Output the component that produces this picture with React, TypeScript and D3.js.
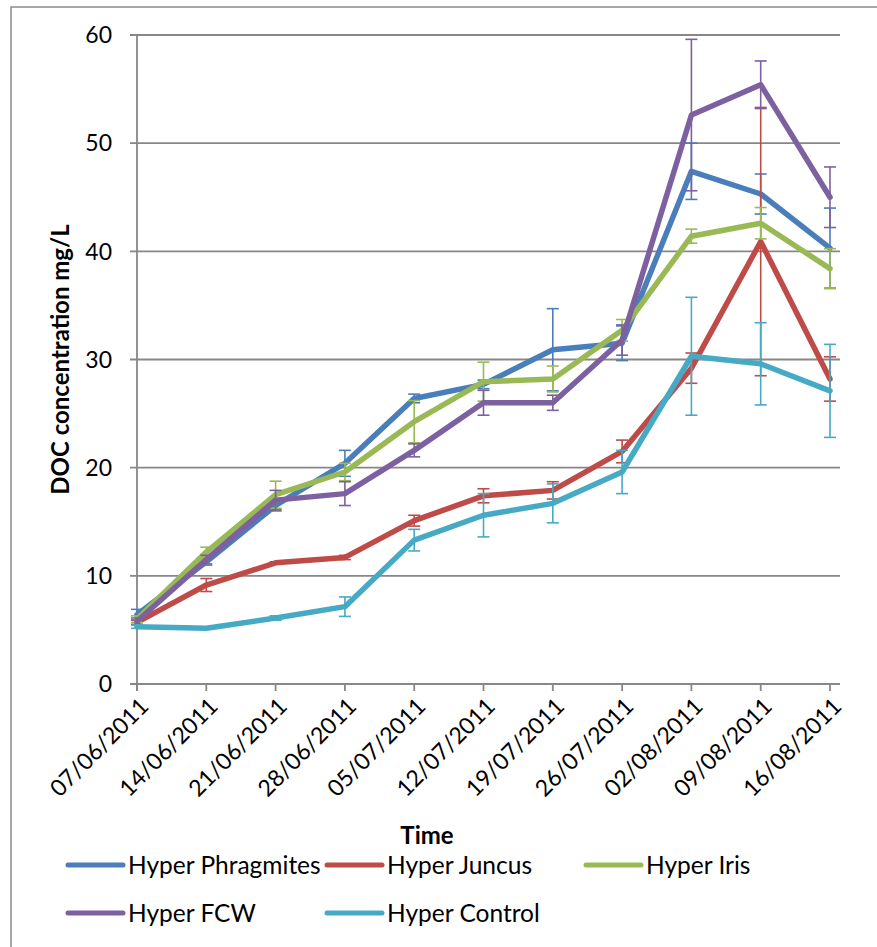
import React from "react";
import * as d3 from "d3";

const dates = [
  "07/06/2011", "14/06/2011", "21/06/2011", "28/06/2011", "05/07/2011", "12/07/2011",
  "19/07/2011", "26/07/2011", "02/08/2011", "09/08/2011", "16/08/2011",
];

const seriesNames = ["Hyper Phragmites", "Hyper Juncus", "Hyper Iris", "Hyper FCW", "Hyper Control"];
const seriesColors = ["#4A7EBB", "#BE4B48", "#98B954", "#7D60A0", "#46AAC5"];

const phragmites = [6.4, 11.3, 16.5, 20.4, 26.4, 27.7, 30.9, 31.5, 47.4, 45.3, 40.3];
const phragmitesErr = [0.5, 0.3, 0.5, 1.2, 0.4, 0.4, 3.8, 1.6, 2.6, 1.85, 3.7];

const juncus = [5.7, 9.15, 11.2, 11.7, 15.1, 17.4, 17.9, 21.5, 29.2, 40.9, 28.2];
const juncusErr = [0.2, 0.6, 0.1, 0.2, 0.5, 0.65, 0.8, 1.05, 1.4, 12.4, 2.05];

const iris = [6.0, 12.2, 17.5, 19.6, 24.25, 27.95, 28.2, 32.7, 41.4, 42.6, 38.4];
const irisErr = [0.3, 0.45, 1.25, 0.8, 1.95, 1.8, 1.2, 1.0, 0.65, 1.45, 1.85];

const fcw = [5.8, 11.5, 17.0, 17.6, 21.6, 26.0, 26.0, 31.8, 52.6, 55.4, 45.0];
const fcwErr = [0.3, 0.4, 0.9, 1.1, 0.6, 1.15, 0.7, 1.4, 7.0, 2.2, 2.8];

const control = [5.3, 5.15, 6.1, 7.15, 13.3, 15.6, 16.7, 19.6, 30.3, 29.6, 27.1];
const controlErr = [0.15, 0.05, 0.2, 0.9, 1.0, 2.0, 1.8, 2.0, 5.45, 3.8, 4.3];

const yTicks = [0, 10, 20, 30, 40, 50, 60];

const seriesValues = [phragmites, juncus, iris, fcw, control];
const seriesErrors = [phragmitesErr, juncusErr, irisErr, fcwErr, controlErr];

const FONT = "Lato, 'Open Sans', sans-serif";
const GRID = "#878787";

export default function App() {
  const W = 877;
  const H = 947;
  const left = 137;
  const right = 840;
  const top = 35;
  const bottom = 684;
  const lastX = 830;

  const x = d3.scalePoint<string>().domain(dates).range([left, lastX]);
  const y = d3.scaleLinear().domain([0, 60]).range([bottom, top]);

  const line = d3
    .line<number>()
    .x((_, i) => x(dates[i]) as number)
    .y((d) => y(d));

  const legendItems = [
    { name: seriesNames[0], color: seriesColors[0], lx: 68, ly: 865 },
    { name: seriesNames[1], color: seriesColors[1], lx: 327, ly: 865 },
    { name: seriesNames[2], color: seriesColors[2], lx: 586, ly: 865 },
    { name: seriesNames[3], color: seriesColors[3], lx: 68, ly: 913 },
    { name: seriesNames[4], color: seriesColors[4], lx: 327, ly: 913 },
  ];

  return (
    <svg
      width={W}
      height={H}
      style={{ position: "absolute", left: 0, top: 0, background: "#fff" }}
      fontFamily={FONT}
    >
      <rect x={0} y={0} width={W} height={H} fill="#fff" />
      {/* chart frame */}
      <rect x={11} y={7} width={W + 20} height={H + 20} fill="none" stroke="#8c8c8c" strokeWidth={1.5} />

      {/* horizontal gridlines and y ticks */}
      {yTicks.map((t) => (
        <g key={t}>
          <line x1={130} x2={right} y1={y(t)} y2={y(t)} stroke={GRID} strokeWidth={1.8} />
          <text x={112} y={y(t)} dy="0.36em" textAnchor="end" fontSize={23} fill="#000">
            {t}
          </text>
        </g>
      ))}

      {/* axes */}
      <line x1={left} x2={left} y1={top} y2={bottom + 7} stroke={GRID} strokeWidth={1.8} />
      {dates.map((d) => (
        <g key={d}>
          <line x1={x(d)} x2={x(d)} y1={bottom} y2={bottom + 7} stroke={GRID} strokeWidth={1.8} />
          <text
            transform={`translate(${(x(d) as number) + 7},${bottom + 18}) rotate(-45)`}
            textAnchor="end"
            dy="0.36em"
            fontSize={23}
            fill="#000"
          >
            {d}
          </text>
        </g>
      ))}

      {/* series */}
      {seriesValues.map((vals, si) => (
        <g key={seriesNames[si]}>
          <path
            d={line(vals) as string}
            fill="none"
            stroke={seriesColors[si]}
            strokeWidth={5.5}
            strokeLinejoin="round"
            strokeLinecap="round"
          />
          {vals.map((v, i) => {
            const e = seriesErrors[si][i];
            const cx = x(dates[i]) as number;
            return (
              <g key={i} stroke={seriesColors[si]} strokeWidth={1.6}>
                <line x1={cx} x2={cx} y1={y(v + e)} y2={y(v - e)} />
                <line x1={cx - 6} x2={cx + 6} y1={y(v + e)} y2={y(v + e)} />
                <line x1={cx - 6} x2={cx + 6} y1={y(v - e)} y2={y(v - e)} />
              </g>
            );
          })}
        </g>
      ))}

      {/* axis titles */}
      <text
        transform={`translate(69,${(top + bottom) / 2}) rotate(-90)`}
        textAnchor="middle"
        fontSize={24}
        fontWeight="bold"
        fill="#000"
      >
        DOC concentration mg/L
      </text>
      <text x={427} y={835} dy="0.36em" textAnchor="middle" fontSize={24} fontWeight="bold" fill="#000">
        Time
      </text>

      {/* legend */}
      {legendItems.map((it) => (
        <g key={it.name}>
          <line
            x1={it.lx}
            x2={it.lx + 55}
            y1={it.ly}
            y2={it.ly}
            stroke={it.color}
            strokeWidth={5}
            strokeLinecap="round"
          />
          <text x={it.lx + 60} y={it.ly} dy="0.36em" fontSize={24.5} fill="#000">
            {it.name}
          </text>
        </g>
      ))}
    </svg>
  );
}
